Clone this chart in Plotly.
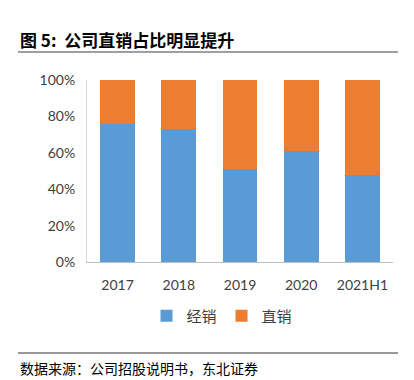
import plotly.graph_objects as go

categories = ["2017", "2018", "2019", "2020", "2021H1"]
distribution = [0.76, 0.73, 0.51, 0.61, 0.48]   # 经销
direct = [0.24, 0.27, 0.49, 0.39, 0.52]         # 直销
y_ticks = [0, 0.2, 0.4, 0.6, 0.8, 1.0]
y_tick_labels = ["0%", "20%", "40%", "60%", "80%", "100%"]

tick_font = dict(family="Lato, 'Noto Sans CJK SC', sans-serif", size=14, color="#404040")

# page body adds an 8px offset; design in window coords minus 8
OFF = 8
fig = go.Figure()
fig.add_trace(go.Bar(x=categories, y=distribution, name="经销", marker_color="#5b9bd5",
                     marker_line_width=0))
fig.add_trace(go.Bar(x=categories, y=direct, name="直销", marker_color="#ed7d31",
                     marker_line_width=0))

fig.update_layout(
    barmode="stack",
    bargap=0.43,
    width=414 - OFF, height=380 - OFF,
    margin=dict(l=87 - OFF, r=21, t=80 - OFF, b=380 - 262, autoexpand=False),
    paper_bgcolor="white", plot_bgcolor="white",
    showlegend=True,
    legend=dict(orientation="h", x=0.5 - 18 / 306, xanchor="center", y=-(316 - 262) / 182,
                yanchor="middle",
                font=dict(family="'Noto Sans CJK SC', sans-serif", size=15, color="#404040"),
                itemwidth=30, traceorder="normal", tracegroupgap=0),
    xaxis=dict(showline=True, linecolor="#bfbfbf", linewidth=1, ticks="", tickfont=tick_font,
               showgrid=False, ticklabelstandoff=10),
    yaxis=dict(range=[0, 1], tickvals=y_ticks, ticktext=y_tick_labels, showline=True,
               linecolor="#d9d9d9", linewidth=1, showgrid=False, zeroline=False,
               tickfont=tick_font, ticks="", ticklabelstandoff=8),
    font=dict(family="'Noto Sans CJK SC', sans-serif"),
)

fig.add_annotation(text="<b>图 5:  公司直销占比明显提升</b>", xref="paper", yref="paper",
                   x=(18 - 87) / 306, y=1 + (80 - 40) / 182, xanchor="left", yanchor="middle",
                   showarrow=False, font=dict(size=17, color="#000000",
                                             family="'Noto Sans CJK SC', sans-serif"))
fig.add_annotation(text="数据来源：公司招股说明书，东北证券", xref="paper", yref="paper",
                   x=(18 - 87) / 306, y=(262 - 368) / 182, xanchor="left", yanchor="middle",
                   showarrow=False, font=dict(size=14, color="#000000",
                                             family="'Noto Sans CJK SC', sans-serif"))
fig.add_shape(type="line", xref="paper", yref="paper",
              x0=(18 - 87) / 306, x1=(398 - 87) / 306,
              y0=1 + (80 - 52) / 182, y1=1 + (80 - 52) / 182,
              line=dict(color="#7f7f7f", width=1.5))
fig.add_shape(type="line", xref="paper", yref="paper",
              x0=(18 - 87) / 306, x1=(398 - 87) / 306,
              y0=(262 - 353) / 182, y1=(262 - 353) / 182,
              line=dict(color="#333333", width=1.2))

fig.write_html("out.html")
